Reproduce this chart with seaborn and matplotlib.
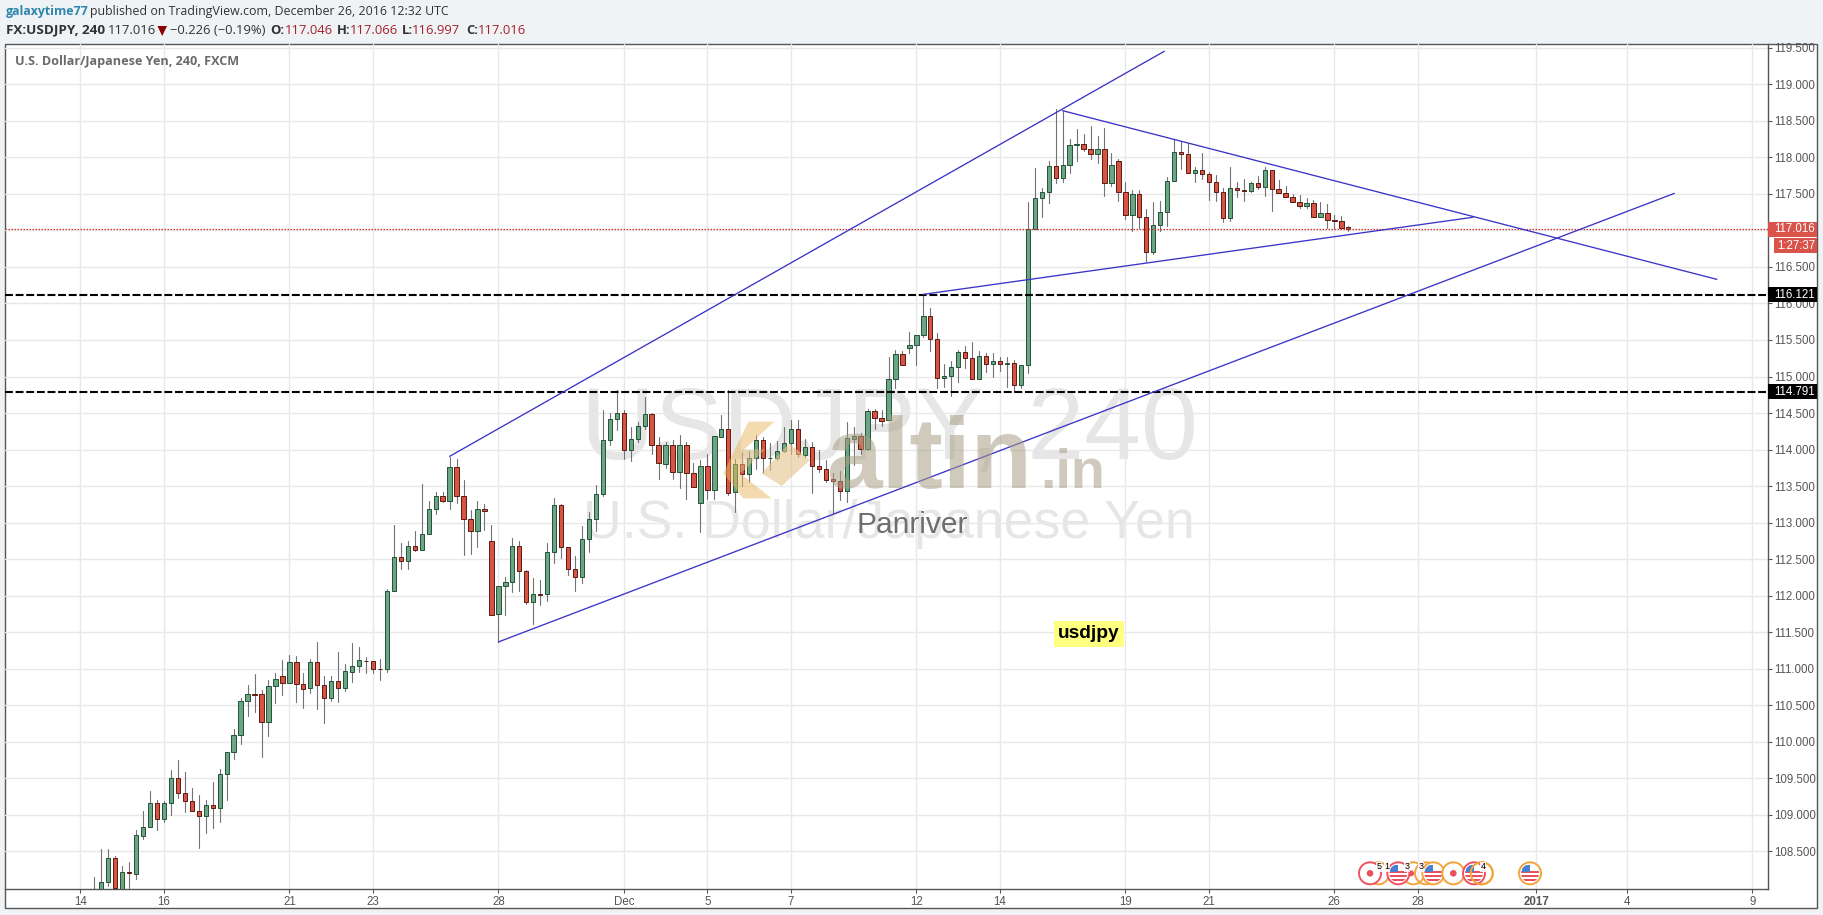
import matplotlib
matplotlib.use("Agg")
import matplotlib.pyplot as plt
import numpy as np
import pandas as pd
import seaborn as sns
from matplotlib.patches import Rectangle, Circle, Polygon, PathPatch
from matplotlib.path import Path

opens = [107.96,107.97,108.076,108.404,107.99,108.21,108.195,108.715,108.829,109.157,
108.938,109.157,109.5,109.303,109.185,109.048,108.979,109.13,109.098,109.554,
109.855,110.088,110.554,110.65,110.65,110.266,110.759,110.896,110.8,111.087,
110.786,110.732,111.087,110.773,110.604,110.827,110.741,110.96,111.033,111.11,
111.1,111.0,110.995,112.059,112.525,112.47,112.675,112.621,112.84,113.182,
113.36,113.291,113.757,113.36,113.045,112.881,113.182,112.744,111.745,112.128,
112.183,112.675,112.333,111.909,112.02,112.018,112.593,113.237,112.662,112.361,
112.251,112.771,113.045,113.387,114.126,114.413,114.496,113.989,114.14,114.318,
114.482,114.058,113.807,114.062,113.697,114.062,113.674,113.264,113.77,113.442,
114.17,114.277,113.414,113.797,113.67,113.88,114.126,113.88,113.89,113.976,
114.085,114.277,113.93,114.03,113.77,113.729,113.592,113.565,113.428,114.15,
114.181,114.012,114.523,114.436,114.4,114.961,115.303,115.395,115.427,115.564,
115.824,115.518,114.975,115.002,115.126,115.331,115.249,114.961,115.276,115.166,
115.208,115.17,115.18,114.879,115.153,117.024,117.439,117.521,117.877,117.713,
117.891,118.17,118.178,118.11,118.041,118.11,117.644,117.945,117.53,117.206,
117.494,117.179,116.709,117.069,117.247,117.672,118.069,118.041,117.781,117.822,
117.767,117.658,117.53,117.165,117.576,117.548,117.535,117.644,117.599,117.822,
117.562,117.507,117.462,117.384,117.329,117.37,117.179,117.233,117.14,117.124,
117.046]

closes = [107.97,108.076,108.404,108.0,108.213,108.2,108.719,108.829,109.157,108.938,
109.157,109.5,109.303,109.185,109.048,108.979,109.13,109.098,109.554,109.855,
110.088,110.554,110.65,110.645,110.266,110.759,110.855,110.8,111.087,110.786,
110.727,111.087,110.773,110.604,110.827,110.741,110.964,111.033,111.115,111.1,
111.0,110.995,112.059,112.525,112.47,112.675,112.621,112.84,113.182,113.36,
113.291,113.757,113.36,113.045,112.881,113.182,113.155,111.74,112.128,112.183,
112.675,112.333,111.909,112.018,112.015,112.593,113.237,112.662,112.361,112.251,
112.771,113.045,113.387,114.127,114.413,114.496,113.989,114.14,114.318,114.482,
114.062,113.81,114.062,113.697,114.062,113.674,113.483,113.77,113.442,114.181,
114.277,113.41,113.797,113.67,113.88,114.126,113.88,113.89,113.976,114.085,
114.277,113.934,114.03,113.77,113.729,113.588,113.565,113.428,114.153,114.181,
114.012,114.523,114.436,114.395,114.961,115.303,115.153,115.427,115.564,115.824,
115.518,114.975,115.002,115.126,115.331,115.249,114.961,115.276,115.166,115.208,
115.166,115.18,114.879,115.153,117.024,117.439,117.521,117.877,117.713,117.891,
118.164,118.18,118.11,118.041,118.11,117.644,117.891,117.53,117.206,117.494,
117.179,116.709,117.069,117.247,117.672,118.069,118.041,117.781,117.822,117.767,
117.658,117.53,117.165,117.576,117.548,117.535,117.644,117.599,117.822,117.562,
117.507,117.462,117.384,117.329,117.37,117.179,117.233,117.138,117.13,117.033,
117.016]

highs = [108.153,108.528,108.528,108.436,108.30,108.36,108.792,109.052,109.326,109.198,
109.185,109.614,109.75,109.586,109.363,109.271,109.2,109.445,109.627,109.855,
110.17,110.595,110.773,110.928,110.704,110.841,110.937,111.115,111.192,111.17,
110.937,111.133,111.366,110.9,110.9,111.229,111.065,111.352,111.297,111.156,
111.1,111.133,112.09,112.963,112.717,112.744,112.881,113.524,113.3,113.419,
113.419,113.903,113.866,113.579,113.168,113.292,113.25,112.963,112.128,112.251,
112.785,112.744,112.347,112.237,112.21,112.717,113.333,113.25,112.662,112.539,
112.949,113.141,113.51,114.541,114.505,114.815,114.541,114.313,114.382,114.715,
114.505,114.177,114.1,114.126,114.195,114.1,113.811,113.852,113.94,114.181,
114.473,114.81,113.866,113.948,113.975,114.195,114.176,114.085,114.112,114.304,
114.405,114.405,114.14,114.1,113.998,113.857,113.68,113.702,114.377,114.313,
114.222,114.555,114.55,114.541,115.262,115.358,115.345,115.609,115.564,116.125,
115.933,115.591,115.167,115.208,115.358,115.413,115.468,115.345,115.317,115.317,
115.262,115.262,115.221,115.153,117.389,117.85,117.576,117.945,118.657,118.639,
118.247,118.383,118.315,118.425,118.292,118.397,118.055,117.973,117.658,117.548,
117.548,117.288,117.389,117.398,117.726,118.247,118.219,118.192,117.872,118.055,
117.795,117.754,117.576,117.863,117.658,117.704,117.658,117.745,117.863,117.822,
117.685,117.603,117.494,117.48,117.439,117.411,117.389,117.357,117.206,117.192,
117.066]

lows = [107.9,107.9,108.03,107.98,107.98,108.0,108.126,108.674,108.829,108.792,
108.906,108.998,109.226,109.043,109.048,108.55,108.756,108.824,108.906,109.207,
109.76,109.97,110.357,110.408,109.796,110.084,110.535,110.645,110.8,110.549,
110.467,110.672,110.453,110.262,110.563,110.549,110.7,110.818,110.96,110.946,
110.946,110.846,110.96,112.059,112.361,112.361,112.607,112.621,112.84,113.113,
113.278,113.182,113.264,112.552,112.566,112.662,112.895,111.731,111.366,111.74,
112.05,112.06,111.88,111.617,111.877,111.932,112.452,112.511,112.279,112.06,
112.169,112.593,112.881,113.36,114.062,114.268,113.871,113.848,114.1,114.277,
113.939,113.592,113.75,113.601,113.478,113.328,113.483,112.867,113.328,113.328,
114.17,113.378,113.15,113.5,113.55,113.73,113.674,113.72,113.857,113.962,
113.939,113.902,113.893,113.41,113.697,113.56,113.127,113.309,113.277,113.793,
113.934,113.99,114.281,114.327,114.4,114.838,115.153,115.326,115.162,115.545,
115.344,114.847,114.861,114.738,114.92,115.116,114.961,114.961,115.066,114.998,
115.071,114.861,114.792,114.847,115.053,117.024,117.183,117.38,117.653,117.667,
117.786,117.955,118.091,117.973,117.918,117.475,117.612,117.407,117.161,116.987,
117.028,116.563,116.672,116.987,117.065,117.672,117.836,117.781,117.658,117.708,
117.416,117.407,117.11,117.133,117.462,117.407,117.521,117.562,117.475,117.27,
117.507,117.453,117.384,117.302,117.302,117.179,117.179,117.028,117.015,117.015,
116.997]

price_ticks = [108.5,109.0,109.5,110.0,110.5,111.0,111.5,112.0,112.5,113.0,113.5,
               114.0,114.5,115.0,115.5,116.0,116.5,117.0,117.5,118.0,118.5,119.0,119.5]
time_ticks = [-2,10,28,40,58,76,88,100,118,130,148,160,178,190,207,220,238]
time_labels = ['14','16','21','23','28','Dec','5','7','12','14','19','21','26','28','2017','4','9']

trend_x = [[51,153.6],[58,226.8],[139,232.9],[119,197.9]]
trend_y = [[113.907,119.453],[111.366,117.507],[118.639,116.33],[116.125,117.18]]
level_values = [116.121,114.791]
last_price = 117.016
countdown_label = '1:27:37'

W, H = 1824, 915
sns.set_theme(style='white')
FONT = 'Liberation Sans'
plt.rcParams['font.family'] = [FONT, 'DejaVu Sans']
fig = plt.figure(figsize=(W/100, H/100), dpi=100, facecolor='#F0F3F6')

def pixel_axes(z):
    a = fig.add_axes([0,0,1,1], zorder=z)
    a.set_xlim(0,W); a.set_ylim(H,0); a.axis('off'); a.patch.set_alpha(0)
    return a

under = pixel_axes(0)
over = pixel_axes(3)

# panel
under.add_patch(Rectangle((5,43.5),1812,864.5,fc='white',ec='#555555',lw=1))
# watermarks
under.text(889,432,'USDJPY, 240',fontsize=73.5,color='#E6E6E6',ha='center',va='center')
under.text(889,524,'U.S. Dollar/Japanese Yen',fontsize=38.6,color='#E6E6E6',ha='center',va='center')

L,R,T,B = 5,1767.7,44,889
ax = fig.add_axes([L/W,1-B/H,(R-L)/W,(B-T)/H],zorder=1)
ax.patch.set_alpha(0)
ax.set_xlim(-12.82,240.2)
ax.set_ylim(107.984,119.552)

n = len(opens)
idx = np.arange(n)
o,c,h,l = map(np.array,(opens,closes,highs,lows))

ax.set_axisbelow(True)
ax.grid(True,color='#E8E8E8',lw=1)

# wicks
wick = pd.DataFrame({'i':np.r_[idx,idx],'p':np.r_[l,h],'u':np.r_[idx,idx]})
sns.lineplot(data=wick,x='i',y='p',units='u',estimator=None,sort=False,color='#737375',
             lw=0.8,legend=False,ax=ax,zorder=2)
# bodies
up = c>=o
ax.bar(idx[up],(c-o)[up],bottom=o[up],width=0.62,color='#6BA583',edgecolor='#225437',lw=0.7,zorder=3)
ax.bar(idx[~up],(o-c)[~up],bottom=c[~up],width=0.62,color='#D75442',edgecolor='#5B1A13',lw=0.7,zorder=3)

# levels
for v in level_values:
    ax.axhline(v,color='black',lw=1.5,ls=(0,(3.8,1.3)),zorder=4)
ax.axhline(last_price,color='#D0302A',lw=0.9,ls=(0,(1.2,1.2)),zorder=4)
# trend lines
for xs,ys in zip(trend_x,trend_y):
    sns.lineplot(x=xs,y=ys,color='#3A34C8',lw=0.95,ax=ax,zorder=5,legend=False,errorbar=None)

ax.set_xlabel(''); ax.set_ylabel('')
ax.yaxis.tick_right()
ax.set_yticks(price_ticks)
ax.set_yticklabels([f'{v:.3f}' for v in price_ticks],fontsize=8.3,color='#555555')
ax.set_xticks(time_ticks)
ax.set_xticklabels(time_labels,fontsize=8.3,color='#555555')
for lab in ax.get_xticklabels():
    if lab.get_text()=='2017':
        lab.set_fontweight('bold')
ax.tick_params(axis='both',which='both',length=3,width=0.8,color='#555555',pad=2,
               bottom=True,right=True,left=False,top=False)
for s in ['left','top']:
    ax.spines[s].set_visible(False)
for s in ['right','bottom']:
    ax.spines[s].set_color('#555555'); ax.spines[s].set_linewidth(1)

# price label boxes
yt = ax.get_yaxis_transform()
box_w = 49.3/(R-L)
box_h = 15.4/73.05
for v,colr in [(116.121,'black'),(114.791,'black'),(last_price,'#D9534A')]:
    ax.add_patch(Rectangle((1.0,v-box_h/2),box_w,box_h,transform=yt,fc=colr,ec='none',clip_on=False,zorder=10))
    ax.text(1.0+6.5/(R-L),v,f'{v:.3f}',transform=yt,color='white',fontsize=8.3,va='center',ha='left',zorder=11,clip_on=False)
cd_y = 116.79
ax.add_patch(Rectangle((1.0+6.5/(R-L),cd_y-box_h/2),box_w-6.5/(R-L),box_h,transform=yt,fc='#D9534A',ec='none',clip_on=False,zorder=10))
ax.text(1.0+9/(R-L),cd_y,countdown_label,transform=yt,color='white',fontsize=8.3,va='center',ha='left',zorder=11,clip_on=False)

# altin.in logo (semi-transparent, on top of candles)
def z11(pts):
    return [(715+x/3,410+y/3) for x,y in pts]
over.add_patch(Polygon(z11([(25,190),(100,35),(178,35),(88,118),(75,190),(170,265),(85,265)]),
                       fc='#E9B860',ec='none',alpha=0.5))
ring = Path(z11([(140,190),(222,100),(285,150),(200,228),(140,190),
                 (182,190),(228,142),(248,156),(202,200),(182,190)]),
            [Path.MOVETO,Path.LINETO,Path.LINETO,Path.LINETO,Path.CLOSEPOLY,
             Path.MOVETO,Path.LINETO,Path.LINETO,Path.LINETO,Path.CLOSEPOLY])
over.add_patch(PathPatch(ring,fc='#E5C48C',ec='none',alpha=0.6))
over.add_patch(Polygon(z11([(85,118),(150,118),(100,170),(75,190)]),fc='#E5C48C',ec='none',alpha=0.5))
over.text(826,488,'altin',fontsize=72,fontweight='bold',color='#A89F85',alpha=0.55,ha='left',va='baseline')
over.text(1040,488,'.in',fontsize=40,fontweight='bold',color='#A89F85',alpha=0.55,ha='left',va='baseline')

# annotations
over.text(912,525,'Panriver',fontsize=21.5,color='#6E6E6E',ha='center',va='center')
over.add_patch(Rectangle((1054,620.7),70,26.5,fc='#FFFF80',ec='none'))
over.text(1089,634,'usdjpy',fontsize=13.8,fontweight='bold',color='black',ha='center',va='center')

# event markers
RED,ORG = '#F0525F','#F5A33B'
ey = 873.3
def flag(x,edge):
    over.add_patch(Circle((x,ey),11,fc='white',ec=edge,lw=1.4))
    clip = Circle((x,ey),9,transform=over.transData)
    for dy in (-1.5,2.5,6.5):
        r = Rectangle((x-9,ey+dy-1),18,2,fc='#E8505B',ec='none'); over.add_patch(r); r.set_clip_path(clip)
    r = Rectangle((x-8,ey-8),8,6.5,fc='#4A7FD0',ec='none'); over.add_patch(r); r.set_clip_path(clip)
def ring_only(x,edge):
    over.add_patch(Circle((x,ey),11,fc='none',ec=edge,lw=1.4))
def dot(x,edge):
    over.add_patch(Circle((x,ey),11,fc='white',ec=edge,lw=1.4))
    over.add_patch(Circle((x,ey),3.3,fc='#E8505B',ec='none'))
ring_only(1378.3,ORG); dot(1370,RED)
ring_only(1413.3,ORG); over.add_patch(Circle((1411,ey),3,fc='#E8505B',ec='none'))
flag(1398.3,RED)
ring_only(1426,ORG); flag(1433.3,ORG)
dot(1453.3,ORG)
ring_only(1481.7,ORG); flag(1474,RED); ring_only(1481.7,ORG)
flag(1530,ORG)
for x,s in [(1379,'5'),(1386.7,'1'),(1407.3,'3'),(1421,'3'),(1483.3,'4')]:
    over.text(x,866.7,s,fontsize=6.5,color='black',ha='center',va='center',
              bbox=dict(fc='white',ec='none',pad=0.4,alpha=0.85))

# header
HF = 'Open Sans'
def ht(x,y,s,**kw):
    kw.setdefault('fontsize',9.4); kw.setdefault('color','#333333')
    over.text(x,y,s,family=HF,va='center',ha='left',**kw)
ht(6,12,'galaxytime77',color='#2F86AE',fontweight='bold',fontsize=8.9)
ht(90,12,'published on TradingView.com, December 26, 2016 12:32 UTC',fontsize=8.95)
ht(6,30,'FX:USDJPY, 240',fontweight='bold',fontsize=9.7)
ht(107.5,30,'117.016')
over.add_patch(Polygon([(157.5,26),(167,26),(162.2,36)],fc='#8B0000',ec='none'))
ht(170.5,30,'\u22120.226 (\u22120.19%)')
DR='#A5222A'
for x,s in [(270.5,'O:'),(336.5,'H:'),(402,'L:'),(466,'C:')]:
    ht(x,30,s,fontweight='bold')
for x,s in [(285,'117.046'),(350,'117.066'),(412,'116.997'),(477.5,'117.016')]:
    ht(x,30,s,color=DR)
ht(15,61,'U.S. Dollar/Japanese Yen, 240, FXCM',fontweight='bold',color='#6A6A6A',fontsize=9.05)

fig.savefig('out.png',dpi=100,facecolor=fig.get_facecolor())
